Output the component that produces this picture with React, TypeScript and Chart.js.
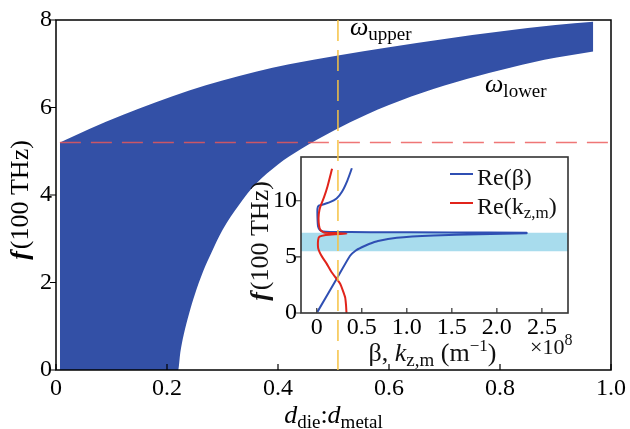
import React, { useEffect, useRef } from 'react';
import { Chart, registerables } from 'chart.js';

Chart.register(...registerables);

const W = 630;
const H = 429;
const SERIF = '"Liberation Serif", "Times New Roman", serif';

// ---------- main chart data ----------
const upperX = [0.007, 0.06, 0.12, 0.18, 0.24, 0.3, 0.36, 0.42, 0.508, 0.6, 0.7, 0.8, 0.9, 0.968];
const upperF = [5.2, 5.51, 5.83, 6.12, 6.39, 6.62, 6.82, 6.99, 7.19, 7.38, 7.565, 7.735, 7.885, 7.96];
const lowerX = [0.007, 0.22, 0.224, 0.23, 0.24, 0.25, 0.265, 0.28, 0.3, 0.33, 0.36, 0.4, 0.44, 0.5, 0.56, 0.64, 0.72, 0.8, 0.88, 0.968];
const lowerF = [0, 0, 0.4, 0.8, 1.3, 1.72, 2.25, 2.68, 3.2, 3.78, 4.25, 4.7, 5.04, 5.47, 5.84, 6.25, 6.58, 6.85, 7.09, 7.28];
const cutoffF = 5.2;
const cutoffXStart = 0.007;
const cutoffXEnd = 1.0;
const markerX = 0.508;

const mainXTicks = [0, 0.2, 0.4, 0.6, 0.8, 1.0];
const mainXLabels = ['0', '0.2', '0.4', '0.6', '0.8', '1.0'];
const mainYTicks = [0, 2, 4, 6, 8];
const mainYLabels = ['0', '2', '4', '6', '8'];

// ---------- inset data ----------
const betaX = [0.007, 0.22, 0.37, 0.43, 0.5, 0.58, 0.68, 0.89, 1.3, 1.8, 2.33, 2.33, 1.5, 0.6, 0.15, 0.07, 0.035, 0.015, 0.008, 0.008, 0.02, 0.06, 0.14, 0.22, 0.28, 0.34, 0.39];
const betaF = [0.1, 3.03, 5.1, 5.55, 5.86, 6.15, 6.42, 6.7, 6.9, 7.02, 7.1, 7.16, 7.18, 7.2, 7.22, 7.26, 7.4, 7.7, 8.5, 9.3, 9.55, 9.65, 9.85, 10.2, 10.8, 11.8, 12.9];
const kzX = [0.33, 0.325, 0.315, 0.29, 0.26, 0.22, 0.16, 0.11, 0.06, 0.03, 0.015, 0.015, 0.03, 0.1, 0.2, 0.33, 0.2, 0.08, 0.04, 0.025, 0.02, 0.03, 0.05, 0.08, 0.12, 0.17];
const kzF = [0.0, 0.7, 1.4, 2.0, 2.6, 3.05, 3.7, 4.4, 5.0, 5.45, 5.8, 6.5, 6.8, 6.95, 7.02, 7.06, 7.12, 7.18, 7.4, 7.8, 8.5, 9.2, 9.7, 10.3, 11.3, 12.86];
const gapLow = 5.5;
const gapHigh = 7.14;

const insetXMin = -0.175;
const insetXMax = 2.79;
const insetYMin = 0;
const insetYMax = 13.9;
const insetXTicks = [0, 0.5, 1.0, 1.5, 2.0, 2.5];
const insetXLabels = ['0', '0.5', '1.0', '1.5', '2.0', '2.5'];
const insetYTicks = [0, 5, 10];
const insetYLabels = ['0', '5', '10'];

const BAND = '#3350a6';
const BLUE = '#2f4fb3';
const RED = '#e1241b';
const CYAN = '#a8dced';
const ORANGE = '#f5c244';
const CUT_RED = 'rgba(236,88,88,0.82)';

const fnt = (size: number, style = '') => `${style} ${size}px ${SERIF}`.trim();

type Part = { t: string; font: string; dy?: number; gap?: number };

function measureRich(ctx: CanvasRenderingContext2D, parts: Part[]) {
  let w = 0;
  for (const p of parts) {
    ctx.font = p.font;
    w += ctx.measureText(p.t).width + (p.gap || 0);
  }
  return w;
}

function drawRich(ctx: CanvasRenderingContext2D, parts: Part[], x: number, y: number, align: 'left' | 'center' = 'left') {
  const w = measureRich(ctx, parts);
  let cx = align === 'center' ? x - w / 2 : x;
  ctx.textAlign = 'left';
  ctx.textBaseline = 'alphabetic';
  for (const p of parts) {
    ctx.font = p.font;
    ctx.fillText(p.t, cx, y + (p.dy || 0));
    cx += ctx.measureText(p.t).width + (p.gap || 0);
  }
}

const toPts = (xs: number[], ys: number[]) => xs.map((x, i) => ({ x, y: ys[i] }));

const mainDecor = {
  id: 'mainDecor',
  afterDraw(chart: any) {
    const { ctx, chartArea: a } = chart;
    const xs = chart.scales.x;
    const ys = chart.scales.y;
    ctx.save();
    ctx.strokeStyle = '#000';
    ctx.lineWidth = 1.5;
    ctx.strokeRect(a.left, a.top, a.right - a.left, a.bottom - a.top);
    ctx.lineWidth = 1.2;
    ctx.beginPath();
    for (const v of mainXTicks) {
      const px = xs.getPixelForValue(v);
      ctx.moveTo(px, a.bottom);
      ctx.lineTo(px, a.bottom - 6);
    }
    for (const v of mainYTicks) {
      const py = ys.getPixelForValue(v);
      ctx.moveTo(a.left - 6, py);
      ctx.lineTo(a.left, py);
    }
    ctx.stroke();
    ctx.fillStyle = '#000';
    drawRich(
      ctx,
      [
        { t: 'd', font: fnt(26, 'italic') },
        { t: 'die', font: fnt(19), dy: 5 },
        { t: ':', font: fnt(26) },
        { t: 'd', font: fnt(26, 'italic') },
        { t: 'metal', font: fnt(19), dy: 5 },
      ],
      (a.left + a.right) / 2,
      423,
      'center'
    );
    ctx.save();
    ctx.translate(28, 200);
    ctx.rotate(-Math.PI / 2);
    drawRich(ctx, [{ t: 'f', font: fnt(26, 'italic bold'), gap: 2 }, { t: '(100 THz)', font: fnt(26) }], 0, 0, 'center');
    ctx.restore();
    drawRich(ctx, [{ t: 'ω', font: fnt(26, 'italic') }, { t: 'upper', font: fnt(19), dy: 5 }], 350, 35);
    drawRich(ctx, [{ t: 'ω', font: fnt(26, 'italic') }, { t: 'lower', font: fnt(19), dy: 5 }], 485, 92);
    ctx.restore();
  },
};

function makeInsetDecor(getMain: () => any) {
  return {
    id: 'insetDecor',
    beforeDraw(chart: any) {
      const { ctx, chartArea: a } = chart;
      ctx.save();
      ctx.fillStyle = '#fff';
      ctx.fillRect(a.left, a.top, a.right - a.left, a.bottom - a.top);
      ctx.restore();
    },
    afterDraw(chart: any) {
      const { ctx, chartArea: a } = chart;
      const xs = chart.scales.x;
      const ys = chart.scales.y;
      ctx.save();
      ctx.strokeStyle = '#333';
      ctx.lineWidth = 1.6;
      ctx.strokeRect(a.left, a.top, a.right - a.left, a.bottom - a.top);
      ctx.lineWidth = 1.2;
      ctx.beginPath();
      for (const v of insetXTicks) {
        const px = xs.getPixelForValue(v);
        ctx.moveTo(px, a.bottom);
        ctx.lineTo(px, a.bottom - 5);
      }
      for (const v of insetYTicks) {
        const py = ys.getPixelForValue(v);
        ctx.moveTo(a.left - 5, py);
        ctx.lineTo(a.left, py);
      }
      ctx.stroke();

      // legend
      const lx = a.left + 149;
      ctx.lineWidth = 2;
      ctx.strokeStyle = BLUE;
      ctx.beginPath();
      ctx.moveTo(lx, a.top + 17);
      ctx.lineTo(lx + 23, a.top + 17);
      ctx.stroke();
      ctx.strokeStyle = RED;
      ctx.beginPath();
      ctx.moveTo(lx, a.top + 46);
      ctx.lineTo(lx + 23, a.top + 46);
      ctx.stroke();
      ctx.fillStyle = '#111';
      drawRich(ctx, [{ t: 'Re(β)', font: fnt(24) }], lx + 27, a.top + 28);
      drawRich(
        ctx,
        [
          { t: 'Re(k', font: fnt(24) },
          { t: 'z,m', font: fnt(17), dy: 4 },
          { t: ')', font: fnt(24) },
        ],
        lx + 27,
        a.top + 57
      );

      // titles
      drawRich(
        ctx,
        [
          { t: 'β, ', font: fnt(26) },
          { t: 'k', font: fnt(26, 'italic') },
          { t: 'z,m', font: fnt(19), dy: 5 },
          { t: ' (m', font: fnt(26) },
          { t: '−1', font: fnt(17), dy: -10 },
          { t: ')', font: fnt(26) },
        ],
        (a.left + a.right) / 2 - 2,
        361,
        'center'
      );
      drawRich(ctx, [{ t: '×10', font: fnt(22) }, { t: '8', font: fnt(16), dy: -9 }], a.right - 38, 354);
      ctx.save();
      ctx.translate(268, (a.top + a.bottom) / 2 + 6);
      ctx.rotate(-Math.PI / 2);
      drawRich(ctx, [{ t: 'f', font: fnt(26, 'italic bold'), gap: 2 }, { t: '(100 THz)', font: fnt(26) }], 0, 0, 'center');
      ctx.restore();

      // orange marker line across the main plot
      const m = getMain();
      if (m) {
        const px = m.scales.x.getPixelForValue(markerX);
        const ma = m.chartArea;
        ctx.strokeStyle = ORANGE;
        ctx.lineWidth = 1.5;
        ctx.setLineDash([21, 9]);
        ctx.beginPath();
        ctx.moveTo(px, ma.top);
        ctx.lineTo(px, ma.bottom);
        ctx.stroke();
        ctx.setLineDash([]);
      }
      ctx.restore();
    },
  };
}

const tickFont = { family: SERIF, size: 24 };

export default function App() {
  const mainRef = useRef<HTMLCanvasElement>(null);
  const insetRef = useRef<HTMLCanvasElement>(null);

  useEffect(() => {
    const main = new Chart(mainRef.current as HTMLCanvasElement, {
      type: 'line',
      data: {
        datasets: [
          {
            data: toPts(upperX, upperF),
            borderWidth: 0,
            borderColor: BAND,
            pointRadius: 0,
            fill: false,
            cubicInterpolationMode: 'monotone',
            order: 1,
          },
          {
            data: toPts(lowerX, lowerF),
            borderWidth: 0,
            borderColor: BAND,
            backgroundColor: BAND,
            pointRadius: 0,
            fill: '-1',
            cubicInterpolationMode: 'monotone',
            order: 1,
          },
          {
            data: [
              { x: cutoffXStart, y: cutoffF },
              { x: cutoffXEnd, y: cutoffF },
            ],
            borderColor: CUT_RED,
            borderWidth: 1.6,
            borderDash: [21, 10],
            pointRadius: 0,
            fill: false,
            order: 0,
          },
        ],
      } as any,
      options: {
        animation: false,
        responsive: false,
        maintainAspectRatio: false,
        events: [],
        layout: { padding: { left: 0, top: 20, right: 18, bottom: 0 } },
        plugins: { legend: { display: false }, tooltip: { enabled: false } },
        scales: {
          x: {
            type: 'linear',
            min: 0,
            max: 1,
            afterFit: (s: any) => {
              s.height = 59;
            },
            afterBuildTicks: (s: any) => {
              s.ticks = mainXTicks.map((v) => ({ value: v }));
            },
            ticks: {
              callback: (_v: any, i: number) => mainXLabels[i],
              font: tickFont,
              color: '#000',
              padding: 4,
              maxRotation: 0,
              autoSkip: false,
            },
            grid: { display: false, drawTicks: false },
            border: { display: false },
          },
          y: {
            type: 'linear',
            min: 0,
            max: 8,
            afterFit: (s: any) => {
              s.width = 56;
            },
            afterBuildTicks: (s: any) => {
              s.ticks = mainYTicks.map((v) => ({ value: v }));
            },
            ticks: {
              callback: (_v: any, i: number) => mainYLabels[i],
              font: tickFont,
              color: '#000',
              padding: 4,
              autoSkip: false,
            },
            grid: { display: false, drawTicks: false },
            border: { display: false },
          },
        },
      } as any,
      plugins: [mainDecor],
    });

    const inset = new Chart(insetRef.current as HTMLCanvasElement, {
      type: 'line',
      data: {
        datasets: [
          {
            data: [
              { x: insetXMin, y: gapLow },
              { x: insetXMax, y: gapLow },
            ],
            borderWidth: 0,
            pointRadius: 0,
            fill: false,
            order: 3,
          },
          {
            data: [
              { x: insetXMin, y: gapHigh },
              { x: insetXMax, y: gapHigh },
            ],
            borderWidth: 0,
            pointRadius: 0,
            backgroundColor: CYAN,
            fill: '-1',
            order: 3,
          },
          {
            data: toPts(betaX, betaF),
            borderColor: BLUE,
            borderWidth: 2,
            pointRadius: 0,
            fill: false,
            tension: 0.2,
            order: 2,
          },
          {
            data: toPts(kzX, kzF),
            borderColor: RED,
            borderWidth: 2,
            pointRadius: 0,
            fill: false,
            tension: 0.2,
            order: 1,
          },
        ],
      } as any,
      options: {
        animation: false,
        responsive: false,
        maintainAspectRatio: false,
        events: [],
        layout: { padding: { left: 251, top: 157, right: 62, bottom: 76 } },
        plugins: { legend: { display: false }, tooltip: { enabled: false } },
        scales: {
          x: {
            type: 'linear',
            min: insetXMin,
            max: insetXMax,
            afterFit: (s: any) => {
              s.height = 40;
            },
            afterBuildTicks: (s: any) => {
              s.ticks = insetXTicks.map((v) => ({ value: v }));
            },
            ticks: {
              callback: (_v: any, i: number) => insetXLabels[i],
              font: tickFont,
              color: '#000',
              padding: 0,
              maxRotation: 0,
              autoSkip: false,
            },
            grid: { display: false, drawTicks: false },
            border: { display: false },
          },
          y: {
            type: 'linear',
            min: insetYMin,
            max: insetYMax,
            afterFit: (s: any) => {
              s.width = 50;
            },
            afterBuildTicks: (s: any) => {
              s.ticks = insetYTicks.map((v) => ({ value: v }));
            },
            ticks: {
              callback: (_v: any, i: number) => insetYLabels[i],
              font: tickFont,
              color: '#000',
              padding: 4,
              autoSkip: false,
            },
            grid: { display: false, drawTicks: false },
            border: { display: false },
          },
        },
      } as any,
      plugins: [makeInsetDecor(() => main)],
    });

    return () => {
      inset.destroy();
      main.destroy();
    };
  }, []);

  return (
    <div style={{ position: 'absolute', left: 0, top: 0, width: W, height: H, background: '#fff' }}>
      <canvas ref={mainRef} width={W} height={H} style={{ position: 'absolute', left: 0, top: 0, width: W, height: H }} />
      <canvas ref={insetRef} width={W} height={H} style={{ position: 'absolute', left: 0, top: 0, width: W, height: H }} />
    </div>
  );
}
